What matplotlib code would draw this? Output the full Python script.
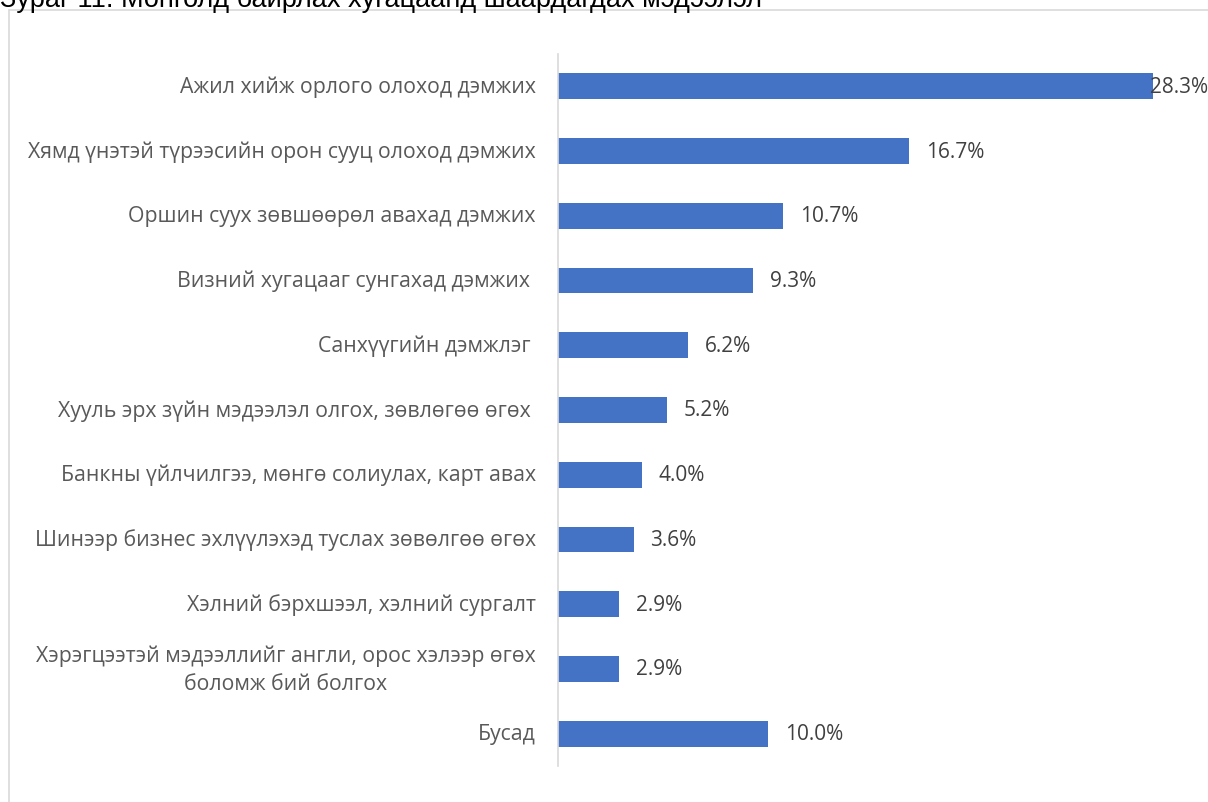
import matplotlib
matplotlib.use("Agg")
import matplotlib.pyplot as plt
from matplotlib.patches import Rectangle

categories = [
    "Ажил хийж орлого олоход дэмжих",
    "Хямд үнэтэй түрээсийн орон сууц олоход дэмжих",
    "Оршин суух зөвшөөрөл авахад дэмжих",
    "Визний хугацааг сунгахад дэмжих ",
    "Санхүүгийн дэмжлэг ",
    "Хууль эрх зүйн мэдээлэл олгох, зөвлөгөө өгөх ",
    "Банкны үйлчилгээ, мөнгө солиулах, карт авах",
    "Шинээр бизнес эхлүүлэхэд туслах зөвөлгөө өгөх",
    "Хэлний бэрхшээл, хэлний сургалт",
    "Хэрэгцээтэй мэдээллийг англи, орос хэлээр өгөх\nболомж бий болгох",
    "Бусад",
]
values = [28.3, 16.7, 10.7, 9.3, 6.2, 5.2, 4.0, 3.6, 2.9, 2.9, 10.0]
value_labels = ["28.3%", "16.7%", "10.7%", "9.3%", "6.2%", "5.2%", "4.0%", "3.6%", "2.9%", "2.9%", "10.0%"]
title = "Зураг 11. Монголд байрлах хугацаанд шаардагдах мэдээлэл"

W, H = 1208, 803
fig = plt.figure(figsize=(W / 100, H / 100), dpi=100)
fig.patch.set_facecolor("white")

# chart frame
fig.patches.append(Rectangle((9 / W, -0.05), 1.1, 1 - 11 / H + 0.05, transform=fig.transFigure,
                             fill=False, edgecolor="#d9d9d9", linewidth=1.2, figure=fig))

fig.text(0.0, 1 - 7 / H, title, fontsize=19.5, family=["Liberation Sans", "DejaVu Sans"],
         color="black", ha="left", va="baseline")

ax = fig.add_axes([558 / W, 1 - 767 / H, 650 / W, (767 - 55) / H])
ax.set_facecolor("none")
pos = list(range(len(categories)))
ax.barh(pos, values, height=0.4, color="#4472C4")
xmax = 650 / 21.02
ax.set_xlim(0, xmax)
ax.set_ylim(len(categories) - 0.5, -0.5)

for s in ["top", "right", "bottom"]:
    ax.spines[s].set_visible(False)
ax.spines["left"].set_color("#d9d9d9")
ax.spines["left"].set_linewidth(1.2)
ax.set_xticks([])
ax.set_yticks(pos)
ax.set_yticklabels(categories, fontsize=15.3, color="#595959",
                   family=["Open Sans", "DejaVu Sans"], ha="right", va="center",
                   multialignment="center", linespacing=1.45)
ax.tick_params(axis="y", length=0, pad=16)

for p, v, lab in zip(pos, values, value_labels):
    x = min(v + 0.8, 28.15)
    ax.text(x, p, lab, fontsize=15, color="#404040", family=["Open Sans", "DejaVu Sans"],
            ha="left", va="center")

fig.savefig("out.png", dpi=100)
